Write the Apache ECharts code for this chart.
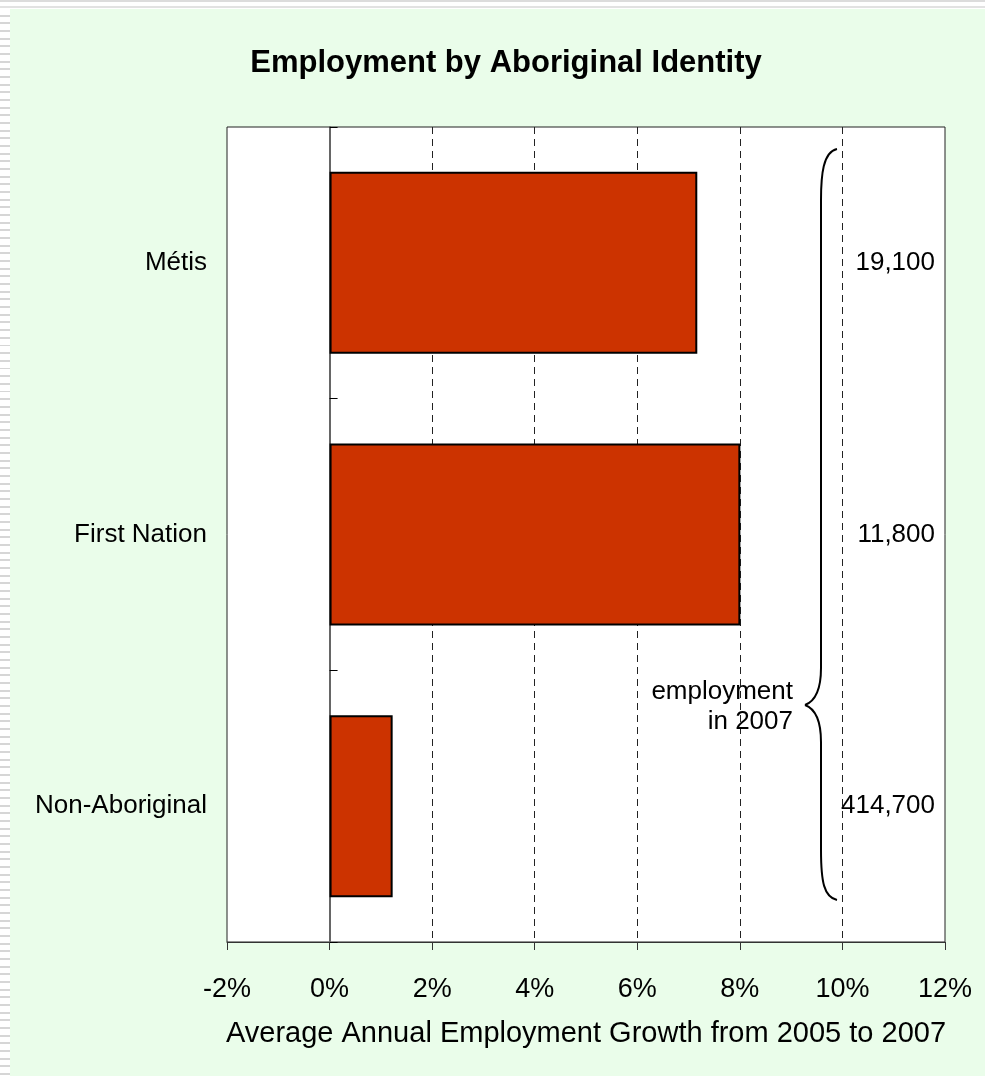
<!DOCTYPE html>
<html>
<head>
<meta charset="utf-8">
<title>Employment by Aboriginal Identity</title>
<script src="https://cdn.jsdelivr.net/npm/echarts@6/dist/echarts.min.js"></script>
<style>
  html, body { margin: 0; padding: 0; background: #fff; width: 985px; height: 1076px; overflow: hidden; }
  #topEdge { position: absolute; left: 0; top: 0; width: 985px; height: 9px;
    background: linear-gradient(to bottom, #dcdcdc 0 2px, #fff 2px 6px, #e2e2e2 6px 8px, #fff 8px 9px); }
  #leftEdge { position: absolute; left: 0; top: 9px; width: 10px; height: 1067px;
    background: repeating-linear-gradient(to bottom, #fff 0 5.7px, #d6d6d6 5.7px 7.67px); }
  #panel { position: absolute; left: 10px; top: 9px; width: 975px; height: 1067px; background: #eafdea; }
  #chart { position: absolute; left: 0; top: 0; width: 985px; height: 1076px; }
</style>
</head>
<body>
<div id="topEdge"></div>
<div id="leftEdge"></div>
<div id="panel"></div>
<div id="chart"></div>
<script>
// Groups shown on the category axis, top to bottom
const categories = ['Métis', 'First Nation', 'Non-Aboriginal'];
// Average annual employment growth 2005-2007, in percent
const growth = [7.17, 8.01, 1.23];
// Employment level in 2007 for each group
const employment2007 = ['19,100', '11,800', '414,700'];
// Value axis range and step, in percent
const axisMin = -2;
const axisMax = 12;
const axisStep = 2;

const FONT = 'Arial, "Liberation Sans", Helvetica, sans-serif';

const chart = echarts.init(document.getElementById('chart'), null, { renderer: 'canvas' });

// Curly brace grouping the 2007 employment figures
const braceStyle = { fill: 'none', stroke: '#000', lineWidth: 2 };
function curve(x1, y1, cpx1, cpy1, cpx2, cpy2, x2, y2) {
  return { type: 'bezierCurve', z: 10, silent: true,
    shape: { x1, y1, cpx1, cpy1, cpx2, cpy2, x2, y2 }, style: braceStyle };
}
function segment(x1, y1, x2, y2) {
  return { type: 'line', z: 10, silent: true,
    shape: { x1, y1, x2, y2 }, style: braceStyle };
}
const brace = [
  curve(837, 149, 823, 152, 821, 175, 821, 200),
  segment(821, 200, 821, 668),
  curve(821, 668, 821, 694, 813, 702, 805, 705),
  curve(805, 705, 813, 708, 821, 716, 821, 742),
  segment(821, 742, 821, 850),
  curve(821, 850, 821, 882, 824, 897, 837, 900)
];

chart.setOption({
  backgroundColor: 'transparent',
  animation: false,
  title: {
    text: 'Employment by Aboriginal Identity',
    left: 501,
    textAlign: 'center',
    top: 43,
    textStyle: { fontFamily: FONT, fontSize: 31, fontWeight: 'bold', color: '#000' }
  },
  grid: {
    left: 227,
    right: 40,
    top: 127,
    bottom: 134,
    containLabel: false,
    outerBoundsMode: 'none',
    show: true,
    backgroundColor: '#fff',
    borderColor: '#222',
    borderWidth: 1
  },
  xAxis: {
    type: 'value',
    min: axisMin,
    max: axisMax,
    interval: axisStep,
    name: 'Average Annual Employment Growth from 2005 to 2007',
    nameLocation: 'middle',
    nameGap: 77,
    nameTextStyle: { fontFamily: FONT, fontSize: 29, color: '#000' },
    axisLine: { show: true, lineStyle: { color: '#333', width: 1 } },
    axisTick: { show: true, length: 8, lineStyle: { color: '#333' } },
    axisLabel: {
      formatter: '{value}%',
      margin: 34,
      fontFamily: FONT, fontSize: 27, color: '#000'
    },
    splitLine: {
      show: true,
      showMinLine: false,
      showMaxLine: false,
      lineStyle: { color: '#222', type: [7, 5], width: 1 }
    }
  },
  yAxis: [
    {
      type: 'category',
      data: categories,
      inverse: true,
      axisLine: { show: true, onZero: true, lineStyle: { color: '#666', width: 2 } },
      axisTick: { show: true, inside: true, length: 8, lineStyle: { color: '#000', width: 1 } },
      axisLabel: { margin: 20, fontFamily: FONT, fontSize: 26, color: '#000' },
      splitLine: { show: false }
    },
    {
      type: 'category',
      data: employment2007,
      inverse: true,
      position: 'right',
      axisLine: { show: false, onZero: false },
      axisTick: { show: false },
      axisLabel: { inside: true, margin: 10, fontFamily: FONT, fontSize: 26, color: '#000' },
      splitLine: { show: false }
    }
  ],
  series: [
    {
      type: 'bar',
      data: growth,
      yAxisIndex: 0,
      barWidth: '67%',
      itemStyle: { color: '#cc3300', borderColor: '#000', borderWidth: 2 },
      silent: true
    }
  ],
  graphic: brace.concat([
    {
      type: 'text',
      x: 793,
      y: 677,
      silent: true,
      style: {
        text: 'employment\nin 2007',
        align: 'right',
        verticalAlign: 'top',
        font: '26px ' + FONT,
        lineHeight: 30,
        fill: '#000'
      },
      z: 10
    }
  ])
});
</script>
</body>
</html>
